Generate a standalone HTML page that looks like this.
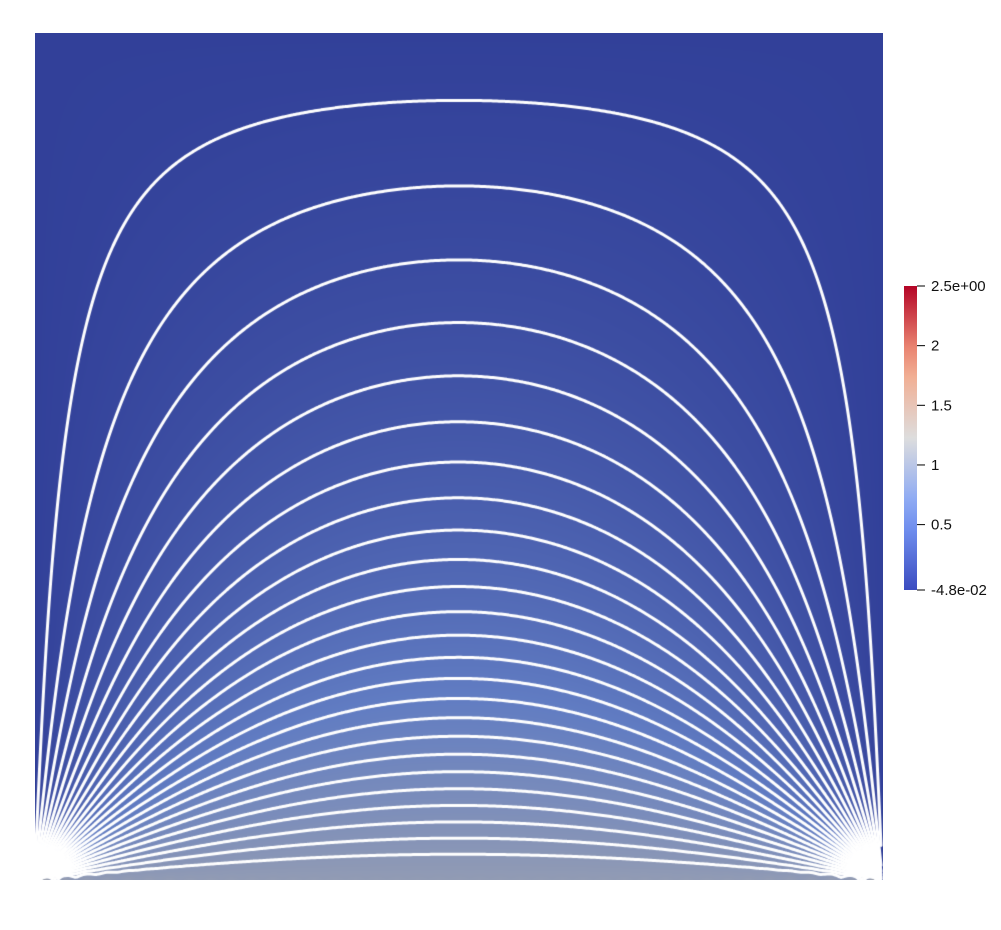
<!DOCTYPE html>
<html><head><meta charset="utf-8"><style>
html,body{margin:0;padding:0;background:#fff;width:1001px;height:930px;overflow:hidden;font-family:"Liberation Sans",sans-serif}
#plot{position:absolute;left:35px;top:33px}
#cb{position:absolute;left:0;top:0}
</style></head><body>
<canvas id="plot" width="848" height="847"></canvas>
<svg id="cb" width="1001" height="930"></svg>
<script>
// contour levels (scalar values)
const levels = [0.028,0.066,0.104,0.142,0.18,0.218,0.256,0.294,0.332,0.37,0.408,0.446,0.484,0.522,0.56,0.598,0.636,0.674,0.712,0.75,0.788,0.826,0.864,0.902,0.94];
const rangeMin = -0.048, rangeMax = 2.5;
const tickValues = [2.5,2,1.5,1,0.5,-0.048];
const tickLabels = ["2.5e+00","2","1.5","1","0.5","-4.8e-02"];
const boundaryValue = 1.0;

const W=848,H=847;
function coolwarm(t){
  t=Math.max(0,Math.min(1,t));
  const s=[[0,59,76,192],[0.25,124,159,249],[0.5,221,221,221],[0.75,246,163,130],[1,180,4,38]];
  for(let i=0;i<s.length-1;i++){if(t<=s[i+1][0]){const f=(t-s[i][0])/(s[i+1][0]-s[i][0]);return [0,1,2].map(k=>s[i][k+1]+(s[i+1][k+1]-s[i][k+1])*f);}}
  return s[4].slice(1);
}
const N=81;
const cs=[],rs=[];
for(let i=0;i<W;i++){const x=(i+0.5)/W;const a=[];for(let n=1;n<=N;n+=2)a.push(4*boundaryValue/(n*Math.PI)*Math.sin(n*Math.PI*x));cs.push(a);}
for(let j=0;j<H;j++){const y=(H-j-0.5)/H;const a=[];for(let n=1;n<=N;n+=2){const k=n*Math.PI;a.push(Math.exp(-k*y)*(1-Math.exp(-2*k*(1-y)))/(1-Math.exp(-2*k)));}rs.push(a);}
const U=new Float32Array(W*H);
for(let j=0;j<H;j++){const r=rs[j];for(let i=0;i<W;i++){const c=cs[i];let s=0;for(let m=0;m<c.length;m++)s+=c[m]*r[m];U[j*W+i]=s;}}
const cv=document.getElementById('plot'),ctx=cv.getContext('2d');
const img=ctx.createImageData(W,H);
for(let p=0;p<W*H;p++){const col=coolwarm((U[p]-rangeMin)/(rangeMax-rangeMin));const sh=0.78;img.data[p*4]=col[0]*sh;img.data[p*4+1]=col[1]*sh;img.data[p*4+2]=col[2]*sh;img.data[p*4+3]=255;}
ctx.putImageData(img,0,0);
ctx.strokeStyle='#fff';ctx.lineWidth=3;ctx.lineCap='round';
const g=2;
function v(i,j){return U[Math.min(H-1,j)*W+Math.min(W-1,i)];}
for(const L of levels){
  ctx.beginPath();
  for(let j=0;j<H-g;j+=g)for(let i=0;i<W-g;i+=g){
    const a=v(i,j),b=v(i+g,j),c=v(i+g,j+g),d=v(i,j+g);
    const pts=[];
    if((a-L)*(b-L)<0)pts.push([i+g*(L-a)/(b-a),j]);
    if((b-L)*(c-L)<0)pts.push([i+g,j+g*(L-b)/(c-b)]);
    if((d-L)*(c-L)<0)pts.push([i+g*(L-d)/(c-d),j+g]);
    if((a-L)*(d-L)<0)pts.push([i,j+g*(L-a)/(d-a)]);
    if(pts.length>=2){ctx.moveTo(pts[0][0],pts[0][1]);ctx.lineTo(pts[1][0],pts[1][1]);}
    if(pts.length==4){ctx.moveTo(pts[2][0],pts[2][1]);ctx.lineTo(pts[3][0],pts[3][1]);}
  }
  ctx.stroke();
}
// colorbar
const svg=document.getElementById('cb'),NS='http://www.w3.org/2000/svg';
const cbTop=286,cbBot=590,cbX=904,cbW=13;
function cy(val){return cbBot-(val-rangeMin)/(rangeMax-rangeMin)*(cbBot-cbTop);}
const defs=document.createElementNS(NS,'defs');
const lg=document.createElementNS(NS,'linearGradient');
lg.setAttribute('id','grad');lg.setAttribute('x1','0');lg.setAttribute('y1','1');lg.setAttribute('x2','0');lg.setAttribute('y2','0');
for(let k=0;k<=10;k++){const st=document.createElementNS(NS,'stop');const c=coolwarm(k/10);st.setAttribute('offset',k/10);st.setAttribute('stop-color',`rgb(${c.map(Math.round).join(',')})`);lg.appendChild(st);}
defs.appendChild(lg);svg.appendChild(defs);
const rect=document.createElementNS(NS,'rect');


rect.setAttribute('x',cbX);rect.setAttribute('y',cbTop);rect.setAttribute('width',cbW);rect.setAttribute('height',cbBot-cbTop);rect.setAttribute('fill','url(#grad)');
svg.appendChild(rect);
tickValues.forEach((tv,k)=>{
  const y=cy(tv);
  const ln=document.createElementNS(NS,'line');
  
  
  ln.setAttribute('x1',cbX+cbW);ln.setAttribute('x2',cbX+cbW+8);ln.setAttribute('y1',y);ln.setAttribute('y2',y);ln.setAttribute('stroke','#000');ln.setAttribute('stroke-width','1');
  svg.appendChild(ln);
  const t=document.createElementNS(NS,'text');
  
  
  t.setAttribute('x',cbX+cbW+14);t.setAttribute('y',y+5);t.setAttribute('font-size','15');t.setAttribute('fill','#111');t.setAttribute('font-family','Liberation Sans, sans-serif');
  t.textContent=tickLabels[k];
  svg.appendChild(t);
});
</script>
</body></html>
